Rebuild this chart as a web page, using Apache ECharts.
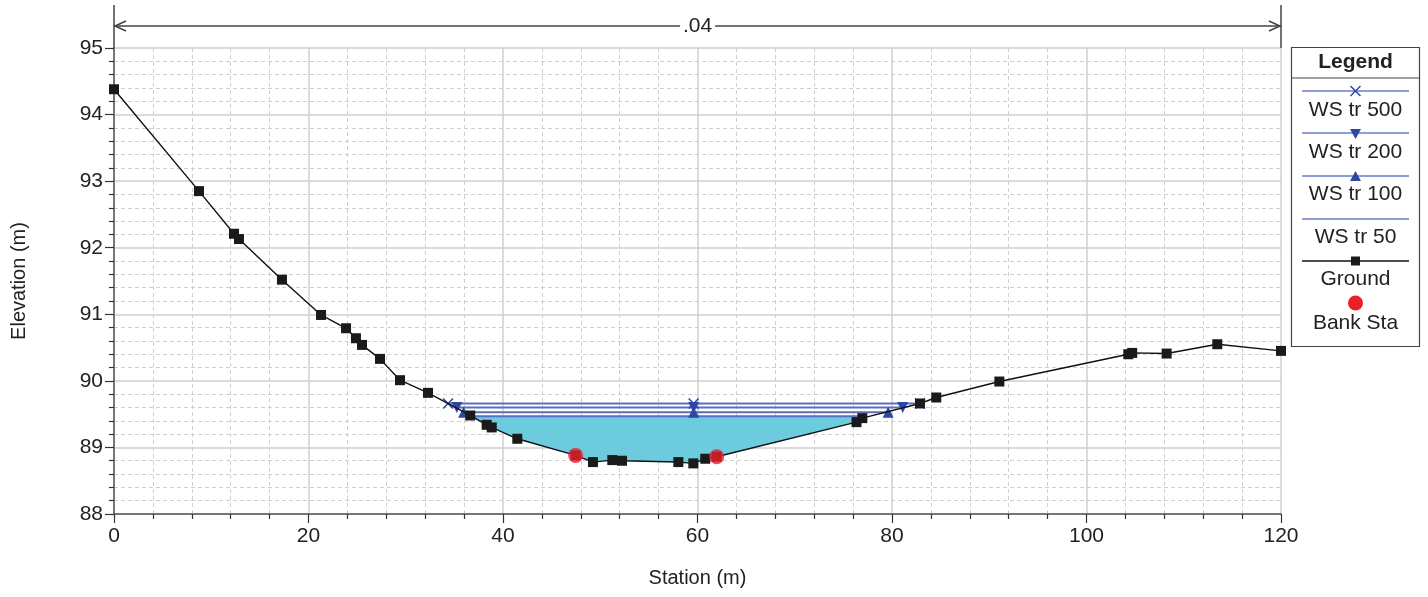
<!DOCTYPE html>
<html><head><meta charset="utf-8">
<script src="https://cdn.jsdelivr.net/npm/echarts@6/dist/echarts.min.js"></script>
<style>html,body{margin:0;padding:0;background:#fff}#c{width:1428px;height:597px}</style>
</head><body><div id="c"></div>
<script>
// ---- data ----
const groundStation = [0, 8.74, 12.34, 12.85, 17.27, 21.29, 23.86, 24.88, 25.5, 27.35, 29.41, 32.29, 36.63, 38.32, 38.84, 41.47, 47.47, 49.25, 51.24, 52.24, 58.03, 59.57, 60.8, 61.97, 76.35, 76.95, 82.88, 84.55, 91.04, 104.3, 104.7, 108.24, 113.45, 120];
const groundElev = [94.38, 92.85, 92.21, 92.13, 91.52, 90.99, 90.79, 90.64, 90.54, 90.33, 90.01, 89.82, 89.48, 89.34, 89.30, 89.13, 88.88, 88.78, 88.81, 88.80, 88.78, 88.76, 88.83, 88.86, 89.38, 89.44, 89.66, 89.75, 89.99, 90.40, 90.42, 90.41, 90.55, 90.45];
const bankStation = [47.47, 61.97];
const bankElev = [88.88, 88.86];
const wsNames = ['WS tr 500', 'WS tr 200', 'WS tr 100', 'WS tr 50'];
const wsElev = [89.66, 89.60, 89.53, 89.47];
const wsLeft = [34.35, 35.25, 35.95, 36.63];
const wsRight = [82.88, 81.10, 79.60, 76.95];
const wsMid = 59.6;
const manningN = '.04';
const xMin = 0, xMax = 120, xStep = 20;
const yMin = 88, yMax = 95, yStep = 1;
const legendTitle = 'Legend';
const groundName = 'Ground', bankName = 'Bank Sta';

// ---- styles ----
const FONT = "'Liberation Sans', Arial, sans-serif";
const WS_LINE = '#5a6ec0', WS_MARK = '#2c47a5', FILL = '#6ccbdc';
const X_PATH = 'path://M0,1L1,0L5,4L9,0L10,1L6,5L10,9L9,10L5,6L1,10L0,9L4,5Z';
const wsSymbols = [X_PATH, 'triangle', 'triangle', 'none'];
const wsRot = [0, 180, 0, 0];

const chart = echarts.init(document.getElementById('c'));

const fillPts = [[wsLeft[3], wsElev[3]]];
groundStation.forEach((s, i) => { if (s > wsLeft[3] && s < wsRight[3]) fillPts.push([s, groundElev[i]]); });
fillPts.push([wsRight[3], wsElev[3]]);

const series = [];
series.push({
  type: 'custom', silent: true, z: 1, data: fillPts,
  renderItem: (params, api) => params.dataIndex === 0 ? {
    type: 'polygon', shape: { points: fillPts.map(p => api.coord(p)) }, style: { fill: FILL }
  } : null
});
wsNames.forEach((n, k) => {
  series.push({
    name: n, type: 'line', z: 3, silent: true,
    data: [[wsLeft[k], wsElev[k]], [wsMid, wsElev[k]], [wsRight[k], wsElev[k]]],
    symbol: wsSymbols[k], symbolRotate: wsRot[k], symbolSize: k === 0 ? 11 : 11,
    showSymbol: wsSymbols[k] !== 'none',
    lineStyle: { color: WS_LINE, width: 2 },
    itemStyle: { color: WS_MARK }
  });
});
series.push({
  name: groundName, type: 'line', z: 4, silent: true,
  data: groundStation.map((s, i) => [s, groundElev[i]]),
  symbol: 'rect', symbolSize: 10,
  lineStyle: { color: '#111', width: 1.4 },
  itemStyle: { color: '#1a1a1a' }
});
series.push({
  name: bankName, type: 'scatter', z: 5, silent: true,
  data: bankStation.map((s, i) => [s, bankElev[i]]),
  symbol: 'circle', symbolSize: 15,
  itemStyle: { color: '#e8202a' }
});

const axisCommon = {
  axisLine: { show: true, onZero: false, lineStyle: { color: '#555', width: 1.5 } },
  axisTick: { show: true, length: 9, lineStyle: { color: '#333', width: 1.2 } },
  minorTick: { show: true, splitNumber: 5, length: 5, lineStyle: { color: '#333', width: 1.2 } },
  splitLine: { show: true, lineStyle: { color: '#cfcfcf', width: 1.5 } },
  minorSplitLine: { show: true, lineStyle: { color: '#cfcfcf', width: 1, type: [4, 3] } },
  axisLabel: { fontFamily: FONT, fontSize: 21, color: '#222' },
  nameTextStyle: { fontFamily: FONT, fontSize: 20, color: '#222' },
  nameLocation: 'middle'
};

chart.setOption({
  animation: false,
  backgroundColor: '#fff',
  grid: { left: 114, top: 48, right: 147, bottom: 83 },
  xAxis: Object.assign({}, axisCommon, {
    type: 'value', min: xMin, max: xMax, interval: xStep, name: 'Station (m)', nameGap: 54,
    axisLabel: Object.assign({}, axisCommon.axisLabel, { margin: 12 })
  }),
  yAxis: Object.assign({}, axisCommon, {
    type: 'value', min: yMin, max: yMax, interval: yStep, name: 'Elevation (m)', nameGap: 85,
    axisLabel: Object.assign({}, axisCommon.axisLabel, { margin: 11 })
  }),
  series
});

// ---- annotations: Manning's n dimension line and custom legend ----
const pL = chart.convertToPixel({ gridIndex: 0 }, [xMin, yMax]);
const pR = chart.convertToPixel({ gridIndex: 0 }, [xMax, yMax]);
const yDim = 26, yTopExt = 5;
const dark = { stroke: '#444', lineWidth: 1.5, fill: null };
const g = [];
g.push({ type: 'line', shape: { x1: pL[0], y1: yTopExt, x2: pL[0], y2: pL[1] }, style: dark, z: 10 });
g.push({ type: 'line', shape: { x1: pR[0], y1: yTopExt, x2: pR[0], y2: pR[1] }, style: dark, z: 10 });
g.push({ type: 'line', shape: { x1: pL[0], y1: yDim, x2: pR[0], y2: yDim }, style: dark, z: 10 });
g.push({ type: 'polyline', shape: { points: [[pL[0] + 12, yDim - 5], [pL[0] + 1, yDim], [pL[0] + 12, yDim + 5]] }, style: dark, z: 10 });
g.push({ type: 'polyline', shape: { points: [[pR[0] - 12, yDim - 5], [pR[0] - 1, yDim], [pR[0] - 12, yDim + 5]] }, style: dark, z: 10 });
g.push({ type: 'text', x: (pL[0] + pR[0]) / 2, y: yDim, z: 11,
  style: { text: manningN, font: `21px ${FONT}`, fill: '#222', align: 'center', verticalAlign: 'middle', backgroundColor: '#fff', padding: [0, 3] } });

// legend box
const LX = 1291.5, LY = 47.5, LW = 128, LH = 299, cx = LX + LW / 2;
g.push({ type: 'rect', shape: { x: LX, y: LY, width: LW, height: LH }, style: { fill: '#fff', stroke: '#444', lineWidth: 1.2 }, z: 10 });
g.push({ type: 'line', shape: { x1: LX, y1: 78, x2: LX + LW, y2: 78 }, style: { stroke: '#444', lineWidth: 1.2 }, z: 11 });
g.push({ type: 'text', x: cx, y: 62, z: 11, style: { text: legendTitle, font: `bold 21px ${FONT}`, fill: '#222', align: 'center', verticalAlign: 'middle' } });
const lineYs = [91, 133, 176, 219, 261];
const textYs = [110, 152, 194, 237, 279, 323];
const names = wsNames.concat([groundName, bankName]);
lineYs.forEach((ly, k) => {
  g.push({ type: 'line', shape: { x1: 1302, y1: ly, x2: 1409, y2: ly }, style: { stroke: k < 4 ? '#6a7ec8' : '#111', lineWidth: 1.5 }, z: 11 });
});
// markers
g.push({ type: 'line', shape: { x1: cx - 5, y1: 86, x2: cx + 5, y2: 96 }, style: { stroke: WS_MARK, lineWidth: 1.5 }, z: 12 });
g.push({ type: 'line', shape: { x1: cx - 5, y1: 96, x2: cx + 5, y2: 86 }, style: { stroke: WS_MARK, lineWidth: 1.5 }, z: 12 });
g.push({ type: 'polygon', shape: { points: [[cx - 5.5, 129], [cx + 5.5, 129], [cx, 139]] }, style: { fill: WS_MARK }, z: 12 });
g.push({ type: 'polygon', shape: { points: [[cx - 5.5, 181], [cx + 5.5, 181], [cx, 171]] }, style: { fill: WS_MARK }, z: 12 });
g.push({ type: 'rect', shape: { x: cx - 4.5, y: 256.5, width: 9, height: 9 }, style: { fill: '#1a1a1a' }, z: 12 });
g.push({ type: 'circle', shape: { cx: cx, cy: 303, r: 7.5 }, style: { fill: '#e8202a' }, z: 12 });
names.forEach((n, k) => {
  g.push({ type: 'text', x: cx, y: textYs[k], z: 12, style: { text: n, font: `21px ${FONT}`, fill: '#222', align: 'center', verticalAlign: 'middle' } });
});
chart.setOption({ graphic: g });
</script></body></html>
